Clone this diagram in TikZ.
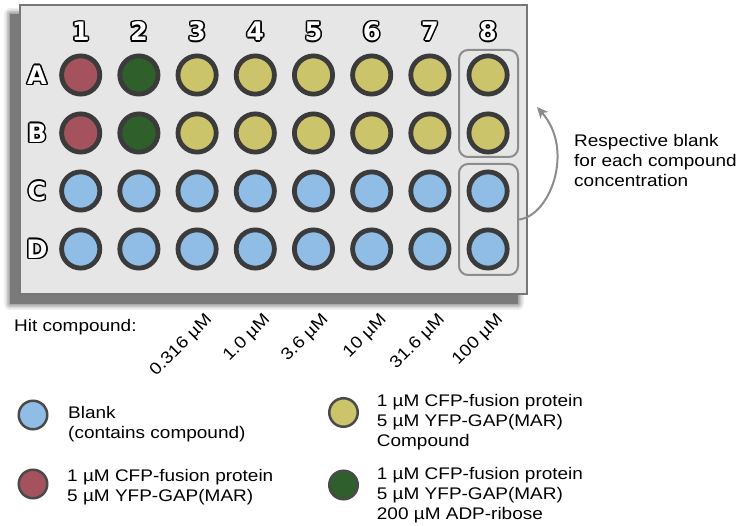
\documentclass[tikz,border=0pt]{standalone}
\usepackage{fontspec}
\usetikzlibrary{arrows.meta}
\newfontfamily\labfont[FakeStretch=1.13]{Liberation Sans}
\newfontfamily\hdrfont{DejaVu Sans}
\definecolor{wellred}{HTML}{A5525F}
\definecolor{wellgreen}{HTML}{2F5F2B}
\definecolor{wellyellow}{HTML}{CCC46A}
\definecolor{wellblue}{HTML}{8FBDE6}
\definecolor{ringgray}{HTML}{3B3B3B}
\definecolor{platefill}{HTML}{E6E6E6}
\definecolor{plateborder}{HTML}{777777}
\definecolor{boxgray}{HTML}{8C8C8C}
\definecolor{legborder}{HTML}{4A4A4A}
\tikzset{
  well/.style={circle, draw=ringgray, line width=4.8pt, minimum size=38.2pt, inner sep=0pt},
  legwell/.style={circle, draw=legborder, line width=2.5pt, minimum size=28.5pt, inner sep=0pt},
  blankbox/.style={draw=boxgray, line width=2pt, rounded corners=9pt, inner sep=0pt, minimum width=59pt},
  hdr/.style={font=\hdrfont\bfseries\fontsize{25.5}{25.5}\selectfont, inner sep=0pt},
  lab/.style={font=\labfont\fontsize{16.8}{20}\selectfont, inner sep=0pt, align=left},
  rotlab/.style={font=\labfont\fontsize{16.8}{20}\selectfont, inner sep=0pt, rotate=45, anchor=base east},
}
\newcommand\outlinelabel[3]{%
  \foreach \ang in {0,45,...,315}
    \node[hdr, text=black, shift={(\ang:1.6)}] at (#2) {#3};
  \node[hdr, text=white] (#1) at (#2) {#3};
}
\begin{document}
\begin{tikzpicture}[x=1pt,y=-1pt]
\useasboundingbox (0,0) rectangle (736,526);
\fill[white] (0,0) rectangle (736,526);
% shadow
\foreach \d/\o in {6/0.06,4.5/0.08,3/0.1,1.5/0.14,0/0.28}
  \fill[black, opacity=\o, rounded corners=\d] (10-\d,14-\d) rectangle (518+\d,304+\d);
% plate
\node[draw=plateborder, line width=2pt, fill=platefill, minimum width=507pt, minimum height=289pt, inner sep=0pt] (plate) at (273.5,149.5) {};
% column labels
\foreach \c [count=\i] in {80.7,138.9,197.1,255.3,313.5,371.7,429.9,488.1}
  \outlinelabel{col\i}{\c,31.5}{\i};
% row labels
\foreach \r/\y in {A/75,B/133,C/191,D/249}
  \outlinelabel{row\r}{37,\y}{\r};
% wells
\foreach \r/\y in {A/75,B/133}{
  \node[well, fill=wellred] (w\r1) at (80.7,\y) {};
  \node[well, fill=wellgreen] (w\r2) at (138.9,\y) {};
  \foreach \c [count=\i from 3] in {197.1,255.3,313.5,371.7,429.9,488.1}
    \node[well, fill=wellyellow] (w\r\i) at (\c,\y) {};
}
\foreach \r/\y in {C/191,D/249}{
  \foreach \c [count=\i] in {80.7,138.9,197.1,255.3,313.5,371.7,429.9,488.1}
    \node[well, fill=wellblue] (w\r\i) at (\c,\y) {};
}
% blank boxes
\node[blankbox, minimum height=107pt] (boxAB) at (488.5,103.5) {};
\node[blankbox, minimum height=111pt] (boxCD) at (488.5,219.5) {};
\coordinate (arrowend) at (537,107);
\draw[boxgray, line width=2pt, -{Stealth[length=11pt,width=10pt,inset=3pt]}]
  (boxCD.east) .. controls (550,216) and (575,150) .. (arrowend);
\node[lab, anchor=base west] (note) at (574,186.7) {Respective blank\\for each compound\\concentration};
% hit compound
\node[lab, anchor=base west] (hit) at (14,331.7) {Hit compound:};
\foreach \c/\t [count=\i from 3] in {197.1/0.316 µM,255.3/1.0 µM,313.5/3.6 µM,371.7/10 µM,429.9/31.6 µM,488.1/100 µM}
  \node[rotlab] (conc\i) at (\c+15.5,320.5) {\t};
% legend
\node[legwell, fill=wellblue] (legblue) at (33,415) {};
\node[lab, anchor=base west] (legbluetxt) at (68,438.3) {Blank\\(contains compound)};
\node[legwell, fill=wellred] (legred) at (33,484) {};
\node[lab, anchor=base west] (legredtxt) at (67,501.7) {1 µM CFP-fusion protein\\5 µM YFP-GAP(MAR)};
\node[legwell, fill=wellyellow] (legyellow) at (343.5,412.5) {};
\node[lab, anchor=base west] (legyellowtxt) at (376.7,446.7) {1 µM CFP-fusion protein\\5 µM YFP-GAP(MAR)\\Compound};
\node[legwell, fill=wellgreen] (leggreen) at (343.5,485) {};
\node[lab, anchor=base west] (leggreentxt) at (376.7,519) {1 µM CFP-fusion protein\\5 µM YFP-GAP(MAR)\\200 µM ADP-ribose};
\end{tikzpicture}
\end{document}
